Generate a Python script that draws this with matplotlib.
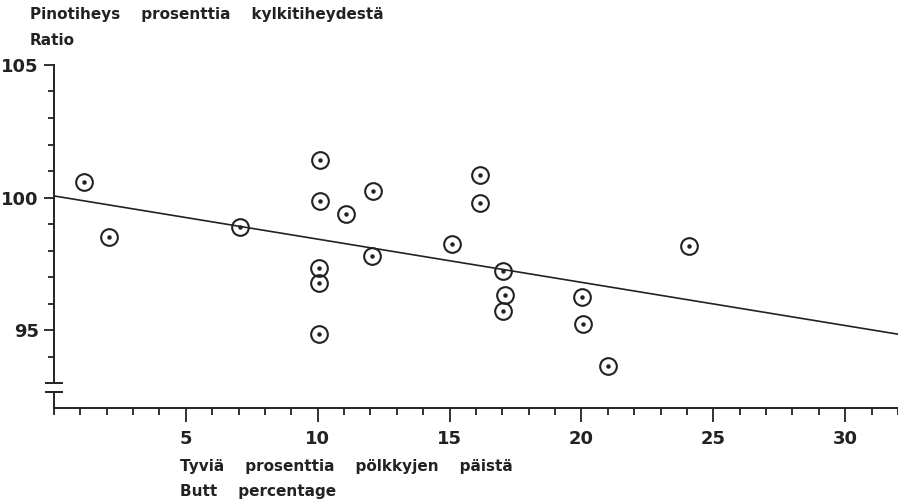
import numpy as np
import matplotlib
matplotlib.use("Agg")
import matplotlib.pyplot as plt
from matplotlib.ticker import MultipleLocator, FixedLocator

# butt percentage (x) and stacking density ratio (y) per sample
butt_pct = [1.15, 2.1, 7.05, 10.1, 10.08, 11.09, 12.1, 10.05, 10.05, 10.03, 12.05,
            15.09, 16.16, 16.16, 17.02, 17.1, 17.02, 20.02, 20.05, 21.0, 24.06]
ratio = [100.6, 98.52, 98.88, 101.42, 99.88, 99.38, 100.26, 97.35, 96.78, 94.84, 97.79,
         98.23, 100.85, 99.78, 97.24, 96.32, 95.72, 96.26, 95.22, 93.65, 98.17]

# regression line as printed
fit_intercept = 100.06
fit_slope = -0.163

x_ticks = [5, 10, 15, 20, 25, 30]
y_ticks = [95, 100, 105]

ink = "#222222"

fig = plt.figure(figsize=(8.98, 5.03), dpi=100)
ax = fig.add_axes([0.0601, 0.1889, 0.9399, 0.6819])
ax.set_xlim(0, 32)
ax.set_ylim(92.06, 105)

# points: open circle with a dot in the middle
ax.plot(butt_pct, ratio, linestyle="none", marker="o", markersize=12,
        markerfacecolor="none", markeredgecolor=ink, markeredgewidth=1.5, zorder=3)
ax.plot(butt_pct, ratio, linestyle="none", marker="o", markersize=2.2,
        color=ink, zorder=4)

xs = np.array([0, 32])
ax.plot(xs, fit_intercept + fit_slope * xs, color=ink, linewidth=1.2, zorder=2)

# axes: bottom spine kept, left axis drawn by hand with a break near 93
for side in ["top", "right", "left"]:
    ax.spines[side].set_visible(False)
ax.spines["bottom"].set_color(ink)
ax.spines["bottom"].set_linewidth(1.4)

ax.plot([0, 0], [93.0, 105], color=ink, linewidth=1.4, clip_on=False)
ax.plot([0, 0], [92.06, 92.66], color=ink, linewidth=1.4, clip_on=False)
ax.plot([-0.3, 0.3], [93.0, 93.0], color=ink, linewidth=1.4, clip_on=False)
ax.plot([-0.3, 0.3], [92.66, 92.66], color=ink, linewidth=1.4, clip_on=False)

ax.xaxis.set_major_locator(FixedLocator(x_ticks))
ax.xaxis.set_minor_locator(MultipleLocator(1))
ax.yaxis.set_major_locator(FixedLocator(y_ticks))
ax.yaxis.set_minor_locator(FixedLocator([94, 96, 97, 98, 99, 101, 102, 103, 104]))

ax.tick_params(axis="x", which="major", length=10, width=1.3, color=ink, pad=6)
ax.tick_params(axis="x", which="minor", length=5, width=1.3, color=ink)
ax.tick_params(axis="y", which="major", length=7, width=1.3, color=ink, pad=4)
ax.tick_params(axis="y", which="minor", length=4, width=1.3, color=ink)

for lab in ax.get_xticklabels() + ax.get_yticklabels():
    lab.set_fontsize(13)
    lab.set_fontweight("bold")
    lab.set_color(ink)

label_kw = dict(fontsize=11, fontweight="bold", color=ink, ha="left", va="center")
fig.text(0.033, 0.972, "Pinotiheys    prosenttia    kylkitiheydestä", **label_kw)
fig.text(0.033, 0.920, "Ratio", **label_kw)
fig.text(0.200, 0.072, "Tyviä    prosenttia    pölkkyjen    päistä", **label_kw)
fig.text(0.200, 0.022, "Butt    percentage", **label_kw)

fig.savefig("out.png", dpi=100)
